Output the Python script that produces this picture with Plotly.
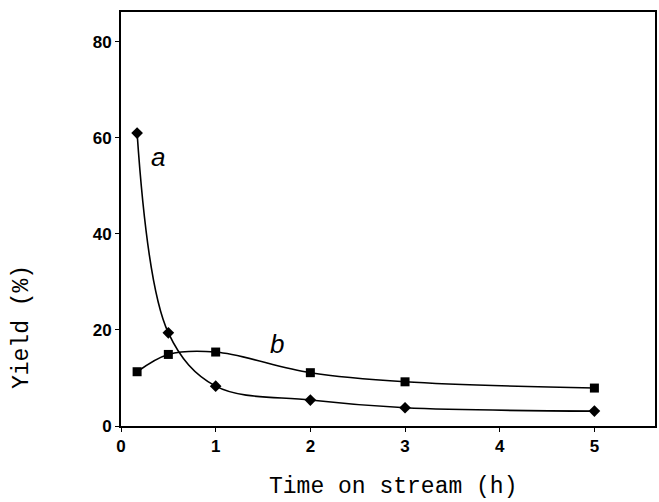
import plotly.graph_objects as go

time_h = [0.17, 0.5, 1, 2, 3, 5]
yield_a = [61.0, 19.4, 8.3, 5.4, 3.8, 3.1]
yield_b = [11.3, 14.9, 15.4, 11.1, 9.2, 7.9]
x_ticks = [0, 1, 2, 3, 4, 5]
y_ticks = [0, 20, 40, 60, 80]

fig = go.Figure()
fig.add_trace(go.Scatter(x=time_h, y=yield_a, mode="lines+markers",
                         line=dict(color="black", width=1.6, shape="spline", smoothing=1.0),
                         marker=dict(symbol="diamond", size=9, color="black"),
                         showlegend=False))
fig.add_trace(go.Scatter(x=time_h, y=yield_b, mode="lines+markers",
                         line=dict(color="black", width=1.6, shape="spline", smoothing=1.0),
                         marker=dict(symbol="square", size=9, color="black"),
                         showlegend=False))

fig.add_annotation(x=0.39, y=56, text="a", showarrow=False,
                   font=dict(family="Liberation Sans", size=26, color="black", style="italic"))
fig.add_annotation(x=1.65, y=17, text="b", showarrow=False,
                   font=dict(family="Liberation Sans", size=26, color="black", style="italic"))

# axis titles placed as annotations to match reference offsets
fig.add_annotation(x=2.87, xref="x", y=0, yref="paper", yanchor="middle", yshift=-61,
                   text="Time on stream (h)", showarrow=False,
                   font=dict(family="Liberation Mono", size=23, color="black"))
fig.add_annotation(x=0, xref="paper", xanchor="center", xshift=-99, y=20.6, yref="y",
                   text="Yield (%)", textangle=-90, showarrow=False,
                   font=dict(family="Liberation Mono", size=23, color="black"))

fig.update_layout(
    width=659, height=502,
    margin=dict(l=121, r=2, t=12, b=76),
    paper_bgcolor="white", plot_bgcolor="white",
    xaxis=dict(range=[0, 5.64], tickvals=x_ticks, ticks="outside", ticklen=4,
               tickcolor="black", showline=True, linecolor="black", linewidth=2,
               mirror=True, showgrid=False, zeroline=False,
               tickfont=dict(family="Liberation Sans", size=17, color="black", weight="bold")),
    yaxis=dict(range=[0, 86.2], tickvals=y_ticks, ticks="outside", ticklen=4,
               tickcolor="black", showline=True, linecolor="black", linewidth=2,
               mirror=True, showgrid=False, zeroline=False,
               tickfont=dict(family="Liberation Sans", size=17, color="black", weight="bold")),
)

fig.write_html("out.html")
